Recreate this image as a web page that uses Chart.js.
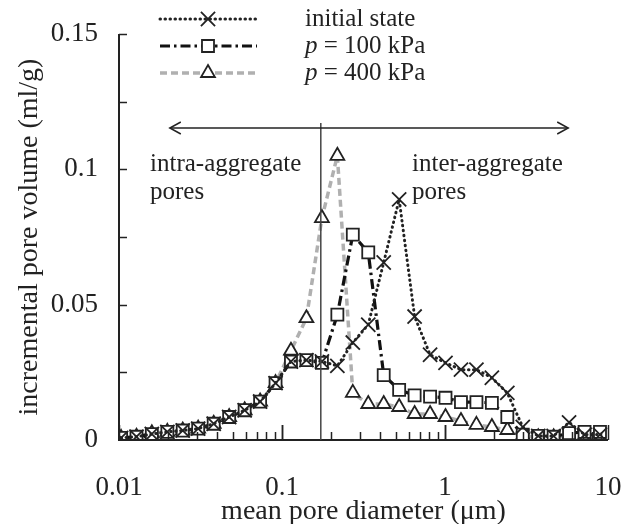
<!DOCTYPE html>
<html>
<head>
<meta charset="utf-8">
<script src="https://cdn.jsdelivr.net/npm/chart.js@4"></script>
<style>
  html, body { margin: 0; padding: 0; background: #fff; }
  #wrap { width: 624px; height: 524px; }
</style>
</head>
<body>
<div id="wrap"><canvas id="myChart" width="624" height="524"></canvas></div>
<script>
// mean pore diameter (um)
const diameters = [0.0103, 0.0128, 0.0159, 0.0198, 0.0246, 0.0306, 0.0381, 0.0474, 0.059, 0.0734,
    0.0913, 0.1135, 0.1412, 0.1757, 0.2186, 0.2719, 0.3382, 0.4207, 0.5233, 0.651,
    0.81, 1.007, 1.253, 1.559, 1.939, 2.412, 3.0, 3.732, 4.64, 5.77, 7.18, 8.93];

const initialState = [0.0008, 0.0012, 0.0022, 0.003, 0.0035, 0.0042, 0.006, 0.0085, 0.011, 0.0142,
    0.021, 0.029, 0.0295, 0.029, 0.0274, 0.036, 0.0426, 0.0656, 0.0889, 0.0456,
    0.0315, 0.0285, 0.026, 0.026, 0.023, 0.0174, 0.0048, 0.0015, 0.0015, 0.0065, 0.002, 0.002];

const p100 = [0.0008, 0.0012, 0.0022, 0.003, 0.0035, 0.0042, 0.006, 0.0085, 0.011, 0.0142,
    0.021, 0.029, 0.0295, 0.0285, 0.0463, 0.0759, 0.0693, 0.024, 0.0185, 0.0165,
    0.016, 0.0156, 0.014, 0.014, 0.0137, 0.0085, 0.002, 0.0015, 0.0012, 0.0025, 0.003, 0.003];

const p400 = [0.0008, 0.0012, 0.0025, 0.003, 0.0035, 0.0042, 0.006, 0.0085, 0.011, 0.0142,
    0.021, 0.033, 0.045, 0.082, 0.105, 0.0174, 0.0133, 0.0133, 0.0122, 0.0096,
    0.0096, 0.0085, 0.007, 0.0056, 0.0048, 0.0037, 0.0015, 0.001, 0.001, 0.0015, 0.0015, 0.001];

const xTickValues = [0.01, 0.1, 1, 10];
const yTickValues = [0, 0.05, 0.1, 0.15];
const boundary = 0.173;

const serif = '"Liberation Serif", "DejaVu Serif", serif';

function pts(ys) {
    return diameters.map((d, i) => ({ x: d, y: ys[i] }));
}

// axes, inward ticks, boundary line, arrows, notes and legend
const extras = {
    id: 'extras',
    afterDatasetsDraw(chart) {
        const c = chart.ctx;
        const xs = chart.scales.x, ys = chart.scales.y;
        const a = chart.chartArea;
        c.save();
        c.strokeStyle = '#222';
        c.lineWidth = 2;
        c.beginPath();
        c.moveTo(a.left, a.top);
        c.lineTo(a.left, a.bottom);
        c.lineTo(a.right, a.bottom);
        c.stroke();

        c.lineWidth = 1.5;
        // y ticks
        for (let v = 0.025; v <= 0.1501; v += 0.025) {
            const py = Math.round(ys.getPixelForValue(v)) + 0.5;
            c.beginPath(); c.moveTo(a.left, py); c.lineTo(a.left + 8, py); c.stroke();
        }
        // x ticks
        for (let dec = 0.01; dec < 10; dec *= 10) {
            for (let m = 1; m <= 10; m++) {
                const px = Math.round(xs.getPixelForValue(m * dec)) + 0.5;
                const len = (m === 1 || m === 10) ? 15 : 8;
                c.beginPath(); c.moveTo(px, a.bottom); c.lineTo(px, a.bottom - len); c.stroke();
            }
        }

        // boundary line
        const bx = xs.getPixelForValue(boundary);
        c.strokeStyle = '#444';
        c.lineWidth = 1.5;
        c.beginPath(); c.moveTo(bx, 123); c.lineTo(bx, a.bottom); c.stroke();

        // arrows
        const ay = 128;
        const lx = xs.getPixelForValue(0.0205), rx = xs.getPixelForValue(5.7);
        c.strokeStyle = '#222';
        c.beginPath(); c.moveTo(lx, ay); c.lineTo(rx, ay); c.stroke();
        c.beginPath();
        c.moveTo(lx + 11, ay - 6); c.lineTo(lx, ay); c.lineTo(lx + 11, ay + 6);
        c.moveTo(rx - 11, ay - 6); c.lineTo(rx, ay); c.lineTo(rx - 11, ay + 6);
        c.stroke();

        // notes
        c.fillStyle = '#222';
        c.font = '25px ' + serif;
        c.textBaseline = 'middle';
        c.textAlign = 'left';
        c.fillText('intra-aggregate', 150, 164);
        c.fillText('pores', 150, 192);
        c.fillText('inter-aggregate', 412, 164);
        c.fillText('pores', 412, 192);

        // legend
        const rows = [
            { ds: 0, y: 19, parts: [['', 'initial state']] },
            { ds: 1, y: 46, parts: [['italic ', 'p'], ['', ' = 100 kPa']] },
            { ds: 2, y: 73, parts: [['italic ', 'p'], ['', ' = 400 kPa']] }
        ];
        rows.forEach(r => {
            const ds = chart.data.datasets[r.ds];
            c.save();
            c.strokeStyle = ds.borderColor;
            c.lineWidth = ds.borderWidth;
            c.lineCap = ds.borderCapStyle || 'butt';
            c.setLineDash(ds.borderDash);
            c.beginPath(); c.moveTo(160, r.y); c.lineTo(257, r.y); c.stroke();
            c.restore();
            c.save();
            c.fillStyle = ds.pointBackgroundColor;
            c.strokeStyle = ds.pointBorderColor;
            c.lineWidth = ds.pointBorderWidth;
            c.setLineDash([]);
            Chart.helpers.drawPoint(c, {
                pointStyle: ds.pointStyle, radius: ds.pointRadius, borderWidth: ds.pointBorderWidth
            }, 208, r.y);
            c.restore();
            c.fillStyle = '#222';
            c.textBaseline = 'middle';
            let tx = 305;
            r.parts.forEach(p => {
                c.font = p[0] + '25px ' + serif;
                c.fillText(p[1], tx, r.y);
                tx += c.measureText(p[1]).width;
            });
        });
        c.restore();
    }
};

const ctx = document.getElementById('myChart');

new Chart(ctx, {
    type: 'line',
    data: {
        datasets: [
            {
                label: 'initial state',
                data: pts(initialState),
                borderColor: '#222',
                borderWidth: 3,
                borderDash: [0.5, 4.5],
                borderCapStyle: 'round',
                pointStyle: 'crossRot',
                pointRadius: 10,
                pointBorderWidth: 1.8,
                pointBorderColor: '#222',
                pointBackgroundColor: '#fff'
            },
            {
                label: 'p = 100 kPa',
                data: pts(p100),
                borderColor: '#111',
                borderWidth: 3.2,
                borderDash: [10, 4, 2.5, 4],
                pointStyle: 'rect',
                pointRadius: 8.5,
                pointBorderWidth: 1.8,
                pointBorderColor: '#222',
                pointBackgroundColor: '#fff'
            },
            {
                label: 'p = 400 kPa',
                data: pts(p400),
                borderColor: '#b0b0b0',
                borderWidth: 3.5,
                borderDash: [7, 4],
                pointStyle: 'triangle',
                pointRadius: 8,
                pointBorderWidth: 1.8,
                pointBorderColor: '#222',
                pointBackgroundColor: '#fff'
            }
        ]
    },
    options: {
        responsive: false,
        animation: false,
        layout: { padding: { top: 34, right: 16, left: 0, bottom: 0 } },
        plugins: { legend: { display: false }, tooltip: { enabled: false } },
        elements: { line: { tension: 0 } },
        scales: {
            x: {
                type: 'logarithmic',
                min: 0.01,
                max: 10,
                grid: { display: false, drawTicks: false },
                border: { display: false },
                afterBuildTicks: s => { s.ticks = xTickValues.map(v => ({ value: v })); },
                afterFit: s => { s.height = 84; s.paddingLeft = 0; s.paddingRight = 0; },
                ticks: {
                    color: '#222',
                    font: { family: serif, size: 27 },
                    padding: 32,
                    maxRotation: 0,
                    autoSkip: false,
                    callback: v => String(v)
                },
                title: {
                    display: true,
                    text: 'mean pore diameter (μm)',
                    color: '#222',
                    font: { family: serif, size: 28 },
                    padding: { top: 0, bottom: -4 }
                }
            },
            y: {
                min: 0,
                max: 0.15,
                grid: { display: false, drawTicks: false },
                border: { display: false },
                afterBuildTicks: s => { s.ticks = yTickValues.map(v => ({ value: v })); },
                afterFit: s => { s.width = 119; s.paddingTop = 0; s.paddingBottom = 0; },
                ticks: {
                    color: '#222',
                    font: { family: serif, size: 27 },
                    padding: 21,
                    callback: v => String(parseFloat(v.toFixed(3)))
                },
                title: {
                    display: true,
                    text: 'incremental pore volume (ml/g)',
                    color: '#222',
                    font: { family: serif, size: 28 },
                    padding: { top: 13, bottom: 0 }
                }
            }
        }
    },
    plugins: [extras]
});
</script>
</body>
</html>
